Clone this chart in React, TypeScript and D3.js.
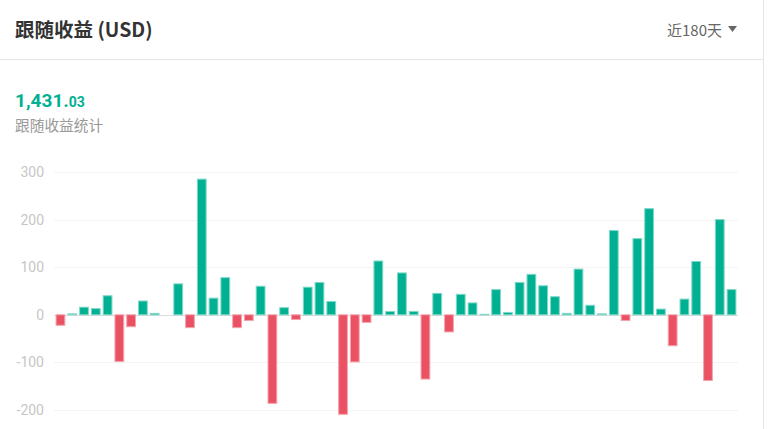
import React from "react";
import * as d3 from "d3";

const days: string[] = Array.from({ length: 58 }, (_, i) => `D${i + 1}`);
const profits: number[] = [
  -22, 2, 16, 13, 40, -98, -25, 29, 3, 0, 65, -27, 285, 35, 78, -27, -12, 60,
  -186, 15, -10, 58, 68, 28, -209, -99, -16, 113, 7, 88, 7, -135, 45, -36, 43,
  25, 1, 53, 5, 68, 85, 61, 38, 3, 96, 20, 2, 177, -12, 160, 223, 12, -65, 33,
  112, -138, 200, 53,
];
const yTicks: number[] = [300, 200, 100, 0, -100, -200];
const titleText = "跟随收益 (USD)";
const periodText = "近180天";
const totalInt = "1,431.";
const totalDec = "03";
const subLabel = "跟随收益统计";

const W = 769;
const H = 429;
const UP = "#00b092";
const UP_STROKE = "#7fd8c8";
const DOWN = "#ea5163";
const DOWN_STROKE = "#f4a3ad";
const CJK = "'Noto Sans CJK SC', 'Noto Sans', sans-serif";

export default function App() {
  const x = d3.scaleBand<string>().domain(days).range([55, 737]).paddingInner(0.17).paddingOuter(0.05);
  const y = d3.scaleLinear().domain([-200, 300]).range([410, 172]);
  const y0 = y(0);

  return (
    <svg
      width={W}
      height={H}
      style={{ position: "absolute", left: 0, top: 0, background: "#fff" }}
    >
      {/* card borders */}
      <line x1={763.5} x2={763.5} y1={0} y2={H} stroke="#e6e6e6" />
      <line x1={0} x2={763} y1={59.5} y2={59.5} stroke="#e6e6e6" />

      {/* header */}
      <text x={15} y={37} fontFamily={CJK} fontWeight={700} fontSize={19.5} fill="#333">
        {titleText}
      </text>
      <text x={667} y={36} fontFamily={CJK} fontSize={15} fill="#666">
        {periodText}
      </text>
      <path d="M728,26 L737,26 L732.5,32 Z" fill="#666" />

      {/* summary */}
      <text x={15} y={107} fontFamily="Roboto, sans-serif" fontWeight={700} fill={UP}>
        <tspan fontSize={19}>{totalInt}</tspan>
        <tspan fontSize={14}>{totalDec}</tspan>
      </text>
      <text x={15} y={131} fontFamily={CJK} fontSize={14.7} fill="#999">
        {subLabel}
      </text>

      {/* grid + axis labels */}
      {yTicks.map((t) => (
        <g key={t}>
          <line
            x1={54}
            x2={738}
            y1={Math.round(y(t)) + 0.5}
            y2={Math.round(y(t)) + 0.5}
            stroke={t === 0 ? "#dcdcdc" : "#f3f3f3"}
          />
          <text
            x={44}
            y={y(t)}
            dy="0.35em"
            textAnchor="end"
            fontFamily="Roboto, sans-serif"
            fontSize={14}
            fill="#c6c6c6"
          >
            {t}
          </text>
        </g>
      ))}

      {/* bars */}
      {profits.map((v, i) => {
        if (v === 0) return null;
        const bx = x(days[i]) as number;
        const top = v >= 0 ? y(v) : y0;
        const h = Math.abs(y(v) - y0);
        return (
          <rect
            key={i}
            x={bx + 0.5}
            y={top}
            width={x.bandwidth() - 1}
            height={h}
            fill={v >= 0 ? UP : DOWN}
            stroke={v >= 0 ? UP_STROKE : DOWN_STROKE}
            strokeWidth={1}
          />
        );
      })}
    </svg>
  );
}
